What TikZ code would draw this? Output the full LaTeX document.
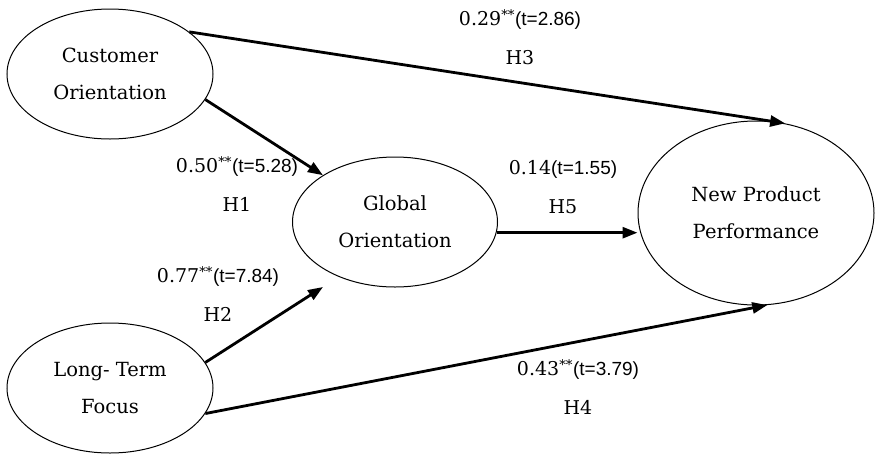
\documentclass[tikz,border=0pt]{standalone}
\usepackage{fontspec}
\setmainfont{DejaVu Serif}
\newfontfamily\tfont{Liberation Sans}
\usetikzlibrary{shapes.geometric,arrows.meta}

\newcommand{\tstat}[1]{{\tfont(t=#1)}}

\begin{document}
\begin{tikzpicture}[
x=1pt, y=-1pt,
construct/.style={draw, ellipse, line width=1pt, inner sep=0pt, align=center,
  font=\fontsize{19.5pt}{37pt}\selectfont},
pathlabel/.style={align=center, font=\fontsize{19pt}{39pt}\selectfont},
path/.style={line width=2.8pt, -{Triangle[length=15pt,width=11pt]}}
]
\useasboundingbox (0,0) rectangle (875,456);

\node[construct, minimum width=206pt, minimum height=130pt] (co) at (110,74) {Customer\\Orientation};
\node[construct, minimum width=206pt, minimum height=130pt] (ltf) at (110,388) {Long- Term\\Focus};
\node[construct, minimum width=205pt, minimum height=130pt] (go) at (395,222) {Global\\Orientation};
\node[construct, minimum width=236pt, minimum height=184pt] (npp) at (756,213) {New Product\\Performance};

\coordinate (h2tip) at (323,287);

\draw[path] (co.28) -- (npp.72);
\draw[path] (co.-15) -- (go.147);
\draw[path] (ltf.15) -- (h2tip);
\draw[path] (ltf.-15) -- (npp.-83);
\draw[path] (go.-6) -- (go.-6 -| npp.west);

\node[pathlabel] (h3) at (520,37) {0.29\textsuperscript{**}\tstat{2.86}\\H3};
\node[pathlabel] (h1) at (237,184) {0.50\textsuperscript{**}\tstat{5.28}\\H1};
\node[pathlabel] (h5) at (563,187) {0.14\tstat{1.55}\\H5};
\node[pathlabel] (h2) at (218,294) {0.77\textsuperscript{**}\tstat{7.84}\\H2};
\node[pathlabel] (h4) at (578,387) {0.43\textsuperscript{**}\tstat{3.79}\\H4};

\end{tikzpicture}
\end{document}
